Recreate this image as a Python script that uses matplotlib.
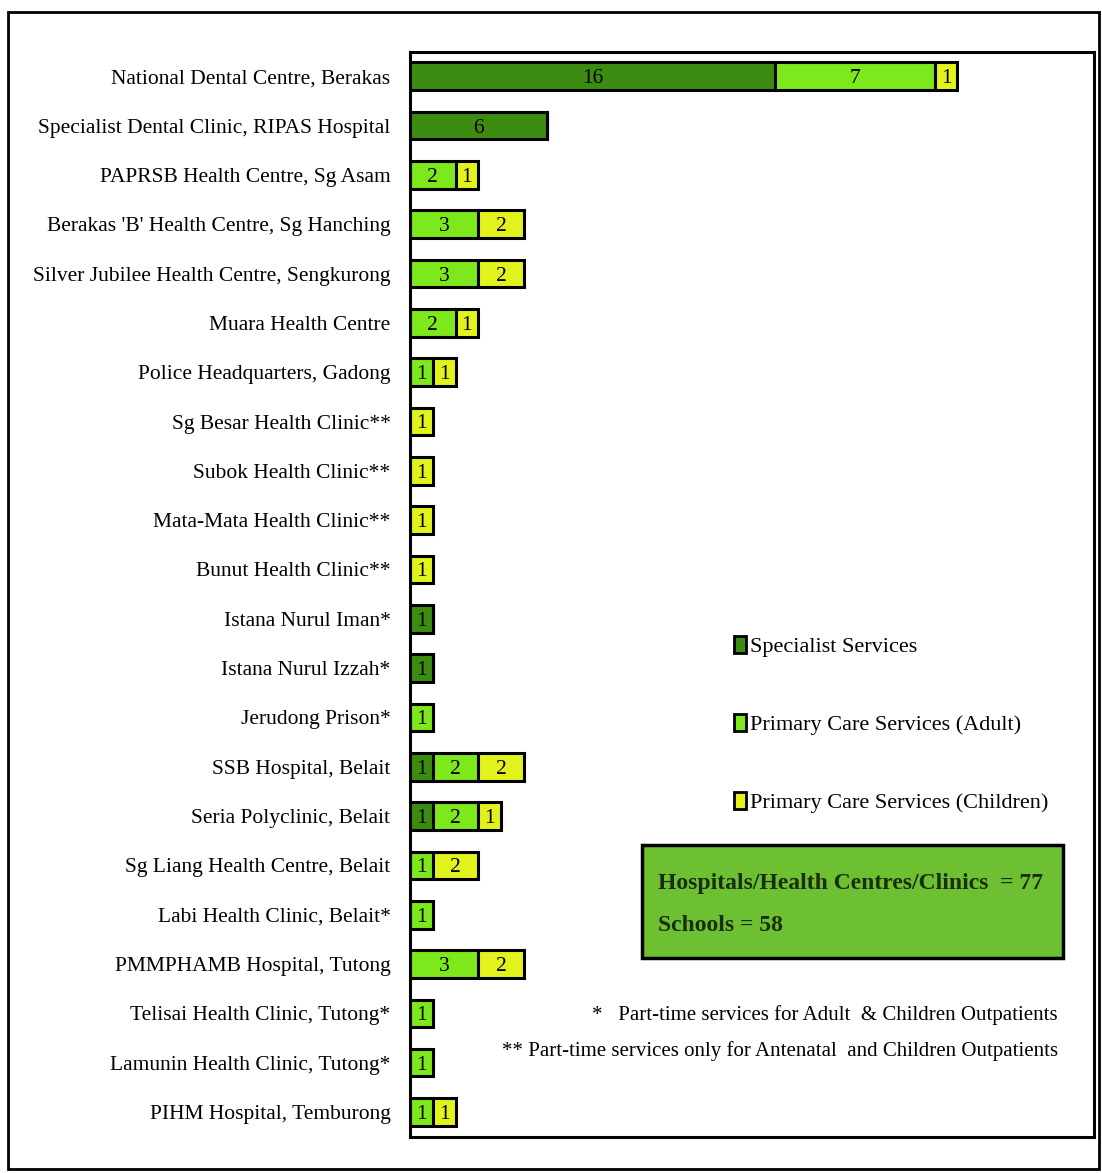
import matplotlib.pyplot as plt
import matplotlib.patches as mpatches
import numpy as np

plt.rcParams['font.family'] = ['Liberation Serif', 'DejaVu Serif']

clinics = [
    "National Dental Centre, Berakas",
    "Specialist Dental Clinic, RIPAS Hospital",
    "PAPRSB Health Centre, Sg Asam",
    "Berakas 'B' Health Centre, Sg Hanching",
    "Silver Jubilee Health Centre, Sengkurong",
    "Muara Health Centre",
    "Police Headquarters, Gadong",
    "Sg Besar Health Clinic**",
    "Subok Health Clinic**",
    "Mata-Mata Health Clinic**",
    "Bunut Health Clinic**",
    "Istana Nurul Iman*",
    "Istana Nurul Izzah*",
    "Jerudong Prison*",
    "SSB Hospital, Belait",
    "Seria Polyclinic, Belait",
    "Sg Liang Health Centre, Belait",
    "Labi Health Clinic, Belait*",
    "PMMPHAMB Hospital, Tutong",
    "Telisai Health Clinic, Tutong*",
    "Lamunin Health Clinic, Tutong*",
    "PIHM Hospital, Temburong",
]
specialist = [16, 6, 0, 0, 0, 0, 0, 0, 0, 0, 0, 1, 1, 0, 1, 1, 0, 0, 0, 0, 0, 0]
adult      = [7, 0, 2, 3, 3, 2, 1, 0, 0, 0, 0, 0, 0, 1, 2, 2, 1, 1, 3, 1, 1, 1]
children   = [1, 0, 1, 2, 2, 1, 1, 1, 1, 1, 1, 0, 0, 0, 2, 1, 2, 0, 2, 0, 0, 1]

series = [
    ("Specialist Services", specialist, "#3c8c12"),
    ("Primary Care Services (Adult)", adult, "#7de81c"),
    ("Primary Care Services (Children)", children, "#e2f21c"),
]

fig = plt.figure(figsize=(11.02, 11.73), dpi=100)
ax = fig.add_axes([0.372, 0.031, 0.621, 0.925])

y = np.arange(len(clinics))
left = np.zeros(len(clinics))
handles = []
for name, vals, col in series:
    vals = np.array(vals, dtype=float)
    bars = ax.barh(y, vals, left=left, height=0.56, color=col,
                   edgecolor="black", linewidth=2.2, label=name)
    for b, v in zip(bars, vals):
        if v > 0:
            ax.text(b.get_x() + v / 2, b.get_y() + b.get_height() / 2 + 0.05,
                    f"{int(v)}", ha="center", va="center", fontsize=15.5,
                    color="black")
    left += vals
    handles.append(mpatches.Patch(facecolor=col, edgecolor="black",
                                  linewidth=2, label=name))

ax.set_xlim(0, 30)
ax.set_ylim(len(clinics) - 0.5, -0.5)
ax.set_yticks(y)
ax.set_yticklabels(clinics, fontsize=15.5)
ax.tick_params(axis="y", length=0, pad=14)
ax.set_xticks([])
for s in ax.spines.values():
    s.set_linewidth(2.2)

ax.legend(handles=handles, loc="upper left", bbox_to_anchor=(0.445, 0.48),
          frameon=False, fontsize=16, handlelength=0.5, handleheight=0.8,
          handletextpad=0.2, labelspacing=2.55)

# summary box
box = mpatches.Rectangle((0.583, 0.183), 0.382, 0.097, transform=fig.transFigure,
                         facecolor="#6cc032", edgecolor="black", linewidth=2.5)
fig.patches.append(box)
fig.text(0.597, 0.247, "Hospitals/Health Centres/Clinics  = 77", fontsize=17,
         fontweight="bold", color="#1a2e0c", va="center")
fig.text(0.597, 0.211, "Schools = 58", fontsize=17, fontweight="bold",
         color="#1a2e0c", va="center")

fig.text(0.96, 0.135, "*   Part-time services for Adult  & Children Outpatients",
         fontsize=15, ha="right", va="center")
fig.text(0.96, 0.104, "** Part-time services only for Antenatal  and Children Outpatients",
         fontsize=15, ha="right", va="center")

# outer frame
frame = mpatches.Rectangle((0.007, 0.003), 0.99, 0.987, transform=fig.transFigure,
                           fill=False, edgecolor="black", linewidth=2)
fig.patches.append(frame)

fig.savefig("out.png", dpi=100)
